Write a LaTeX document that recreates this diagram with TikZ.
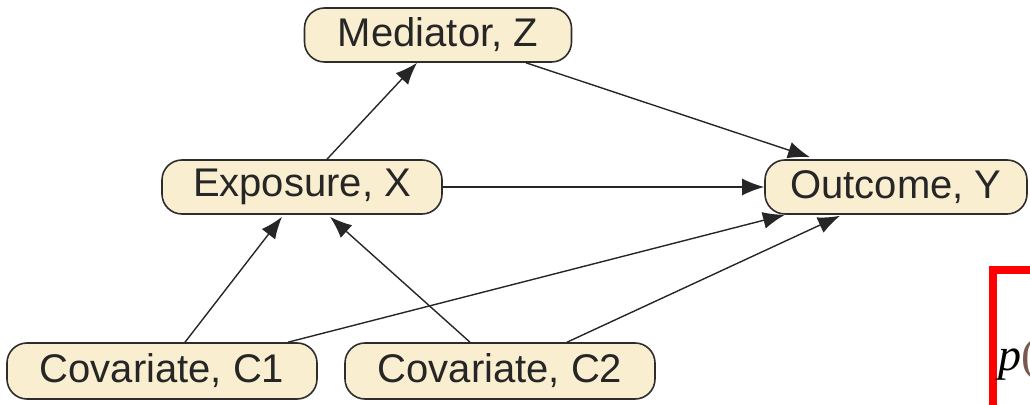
\documentclass[tikz,border=0pt]{standalone}
\usepackage{fontspec}
\setmainfont{Liberation Sans}
\newfontfamily\formfont{Liberation Serif}
\usetikzlibrary{arrows.meta}
\definecolor{nodefill}{RGB}{250,238,208}
\definecolor{nodeline}{RGB}{45,45,45}
\definecolor{redbox}{RGB}{255,0,0}
\definecolor{parencol}{RGB}{120,90,80}
\tikzset{
  var/.style={draw=nodeline, line width=1.6pt, fill=nodefill, rounded corners=20pt,
    minimum height=54pt, inner sep=0pt, font=\fontsize{40}{48}\selectfont, text=black!85},
  link/.style={draw=black!85, line width=1.4pt, -{Latex[length=22pt,width=17pt]}}
}
\begin{document}
\begin{tikzpicture}[x=1pt,y=1pt]
\useasboundingbox (0,0) rectangle (1030,404);
\clip (0,0) rectangle (1030,404);
\node[var, minimum width=267pt] (med) at (438,369) {Mediator, Z};
\node[var, minimum width=280pt] (exp) at (302,217) {Exposure, X};
\node[var, minimum width=262pt] (out) at (896,217) {Outcome, Y};
\node[var, minimum width=310pt, minimum height=56pt] (c1) at (162,33) {Covariate, C1};
\node[var, minimum width=310pt, minimum height=56pt] (c2) at (500,33) {Covariate, C2};
\draw[link] ([xshift=25pt]exp.north) -- ([xshift=-21pt]med.south);
\draw[link] ([xshift=88pt]med.south) -- ([xshift=-86pt,yshift=2pt]out.north);
\draw[link] (exp.east) -- (out.west);
\draw[link] ([xshift=23pt]c1.north) -- ([xshift=-20pt,yshift=-2pt]exp.south);
\draw[link] ([xshift=126pt]c1.north) -- ([xshift=-111pt]out.south);
\draw[link] ([xshift=-30pt]c2.north) -- ([xshift=28pt,yshift=-2pt]exp.south);
\draw[link] ([xshift=67pt]c2.north) -- ([xshift=-56pt,yshift=-1pt]out.south);
\coordinate (rbcorner) at (993,134);
\coordinate (rbbottom) at (993,-5);
\coordinate (rbright) at (1040,134);
\draw[redbox, line width=8pt] (rbbottom) -- (rbcorner) -- (rbright);
\node[anchor=base west, inner sep=0pt, font=\formfont\fontsize{46}{54}\selectfont\itshape] (pform) at (998,34) {p\textcolor{parencol}{\upshape(}};
\end{tikzpicture}
\end{document}
